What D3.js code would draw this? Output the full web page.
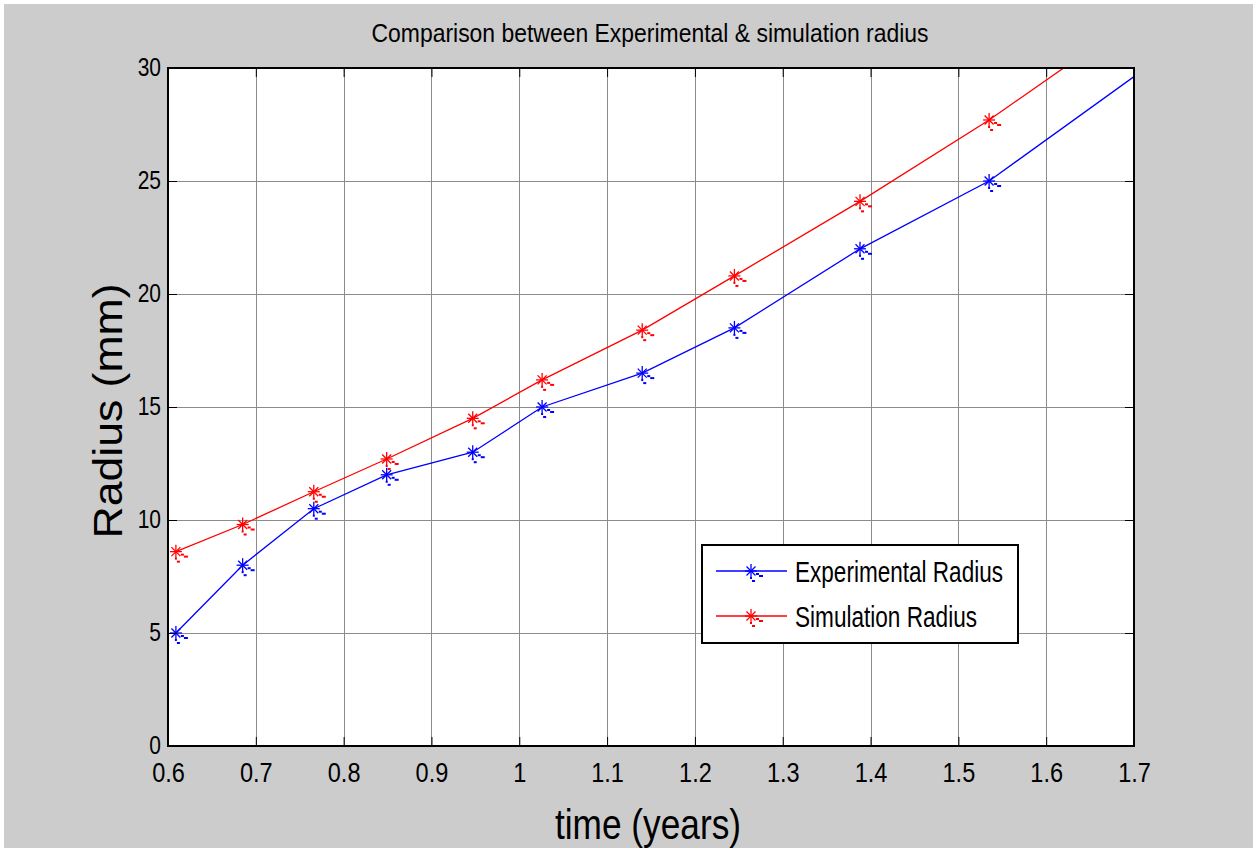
<!DOCTYPE html>
<html lang="en">
<head>
    <meta charset="UTF-8">
    <title>Comparison between Experimental & simulation radius</title>
    <script src="https://d3js.org/d3.v7.min.js"></script>
    <style>
        body { margin: 0; background: #fff; }
        .tick-label text { font-family: "Liberation Sans", Arial, sans-serif; fill: #000; }
        .grid line { stroke: #8c8c8c; stroke-width: 1; shape-rendering: crispEdges; }
        .grid path { display: none; }
    </style>
</head>
<body>
    <svg width="1257" height="852"></svg>

    <script>
        // Data
        const timeYears = [0.609, 0.685, 0.766, 0.849, 0.947, 1.026, 1.14, 1.245, 1.388, 1.535, 1.76];
        const experimentalRadius = [5.0, 8.0, 10.5, 12.0, 13.0, 15.0, 16.5, 18.5, 22.0, 25.0, 31.3];
        const simulationRadius = [8.6, 9.8, 11.25, 12.7, 14.5, 16.2, 18.4, 20.8, 24.1, 27.7, 33.8];
        const xTicks = [0.6, 0.7, 0.8, 0.9, 1, 1.1, 1.2, 1.3, 1.4, 1.5, 1.6, 1.7];
        const yTicks = [0, 5, 10, 15, 20, 25, 30];
        const seriesNames = ["Experimental Radius", "Simulation Radius"];
        const seriesColors = ["#0000ff", "#ff0000"];

        const svg = d3.select("svg");
        const margin = { top: 68, right: 123, bottom: 106, left: 168 };
        const width = 1257 - margin.left - margin.right,
            height = 852 - margin.top - margin.bottom;

        // gray figure background with thin white border
        svg.append("rect").attr("x", 4).attr("y", 4).attr("width", 1249).attr("height", 844).attr("fill", "#cccccc");

        const g = svg.append("g").attr("transform", `translate(${margin.left},${margin.top})`);

        const x = d3.scaleLinear().domain([0.6, 1.7]).range([0, width]);
        const y = d3.scaleLinear().domain([0, 30]).range([height, 0]);

        g.append("rect").attr("width", width).attr("height", height).attr("fill", "#fff");

        // grid lines
        g.append("g").attr("class", "grid")
            .attr("transform", `translate(0,${height})`)
            .call(d3.axisBottom(x).tickValues(xTicks).tickSize(-height).tickFormat(""));
        g.append("g").attr("class", "grid")
            .call(d3.axisLeft(y).tickValues(yTicks).tickSize(-width).tickFormat(""));

        // clip for data lines
        g.append("clipPath").attr("id", "plot-clip")
            .append("rect").attr("width", width).attr("height", height);

        const line = d3.line()
            .x(d => x(d[0]))
            .y(d => y(d[1]));

        // asterisk marker plus the little export artefacts below it
        function drawMarker(sel, cx, cy, color) {
            const m = sel.append("g").attr("transform", `translate(${cx},${cy})`)
                .attr("stroke", color).attr("fill", color).attr("stroke-width", 1.3);
            m.append("line").attr("x1", -6).attr("x2", 6).attr("y1", 0).attr("y2", 0);
            m.append("line").attr("x1", 0).attr("x2", 0).attr("y1", -7).attr("y2", 7);
            m.append("line").attr("x1", -4.5).attr("x2", 4.5).attr("y1", -4.5).attr("y2", 4.5);
            m.append("line").attr("x1", -4.5).attr("x2", 4.5).attr("y1", 4.5).attr("y2", -4.5);
            [[5, 2, 3, 2], [8, 4, 4, 2], [1, 9, 3, 2], [-1, 6, 2, 2]].forEach(r => {
                m.append("rect").attr("x", r[0]).attr("y", r[1]).attr("width", r[2]).attr("height", r[3]).attr("stroke", "none");
            });
        }

        const seriesData = [experimentalRadius, simulationRadius];
        seriesData.forEach((vals, i) => {
            const pts = timeYears.map((t, j) => [t, vals[j]]);
            g.append("path")
                .datum(pts)
                .attr("clip-path", "url(#plot-clip)")
                .attr("fill", "none")
                .attr("stroke", seriesColors[i])
                .attr("stroke-width", 1.3)
                .attr("d", line);
            pts.filter(d => d[0] <= 1.7 && d[1] <= 30)
                .forEach(d => drawMarker(g, x(d[0]), y(d[1]), seriesColors[i]));
        });

        // squeeze tick text horizontally, like the narrow font of the original
        function condense(texts, factor) {
            texts.each(function () {
                const w = this.getComputedTextLength();
                d3.select(this).attr("textLength", w * factor).attr("lengthAdjust", "spacingAndGlyphs");
            });
        }

        // axes: inward ticks on all four sides
        const bottomAxis = g.append("g").attr("class", "tick-label")
            .attr("transform", `translate(0,${height})`)
            .call(d3.axisBottom(x).tickValues(xTicks).tickSizeInner(-9).tickSizeOuter(0).tickPadding(16)
                .tickFormat(d3.format("")));
        bottomAxis.selectAll("text").attr("font-size", 28);
        condense(bottomAxis.selectAll("text"), 0.84);

        const leftAxis = g.append("g").attr("class", "tick-label")
            .call(d3.axisLeft(y).tickValues(yTicks).tickSizeInner(-9).tickSizeOuter(0).tickPadding(7));
        leftAxis.selectAll("text").attr("font-size", 25).attr("dy", "0.3em");
        condense(leftAxis.selectAll("text"), 0.84);

        g.append("g").call(d3.axisTop(x).tickValues(xTicks).tickSizeInner(-9).tickSizeOuter(0).tickFormat(""));
        g.append("g").attr("transform", `translate(${width},0)`)
            .call(d3.axisRight(y).tickValues(yTicks).tickSizeInner(-9).tickSizeOuter(0).tickFormat(""));

        g.selectAll(".tick-label path, .tick-label line").attr("stroke", "#000");

        // axes box
        g.append("rect").attr("width", width).attr("height", height)
            .attr("fill", "none").attr("stroke", "#000").attr("stroke-width", 2);

        // title and axis labels
        svg.append("text")
            .attr("x", 650).attr("y", 42)
            .attr("text-anchor", "middle")
            .attr("font-family", "'Liberation Sans', Arial, sans-serif")
            .attr("font-size", 25)
            .attr("textLength", 557).attr("lengthAdjust", "spacingAndGlyphs")
            .text("Comparison between Experimental & simulation radius");

        svg.append("text")
            .attr("x", 648).attr("y", 839)
            .attr("text-anchor", "middle")
            .attr("font-family", "'Liberation Sans', Arial, sans-serif")
            .attr("font-size", 42)
            .attr("textLength", 186).attr("lengthAdjust", "spacingAndGlyphs")
            .text("time (years)");

        svg.append("text")
            .attr("transform", "translate(122,411) rotate(-90)")
            .attr("text-anchor", "middle")
            .attr("font-family", "'Liberation Sans', Arial, sans-serif")
            .attr("font-size", 40)
            .attr("textLength", 255).attr("lengthAdjust", "spacingAndGlyphs")
            .text("Radius (mm)");

        // legend
        const legend = svg.append("g").attr("transform", "translate(702,545)");
        legend.append("rect").attr("width", 316).attr("height", 98)
            .attr("fill", "#fff").attr("stroke", "#000").attr("stroke-width", 2);
        const legendWidths = [208, 182];
        seriesNames.forEach((name, i) => {
            const ly = 26 + i * 45;
            legend.append("line").attr("x1", 14).attr("x2", 85).attr("y1", ly).attr("y2", ly)
                .attr("stroke", seriesColors[i]).attr("stroke-width", 1.3);
            drawMarker(legend, 49, ly, seriesColors[i]);
            legend.append("text")
                .attr("x", 93).attr("y", ly + 11)
                .attr("font-family", "'Liberation Sans', Arial, sans-serif")
                .attr("font-size", 30)
                .attr("textLength", legendWidths[i]).attr("lengthAdjust", "spacingAndGlyphs")
                .text(name);
        });
    </script>
</body>
</html>
